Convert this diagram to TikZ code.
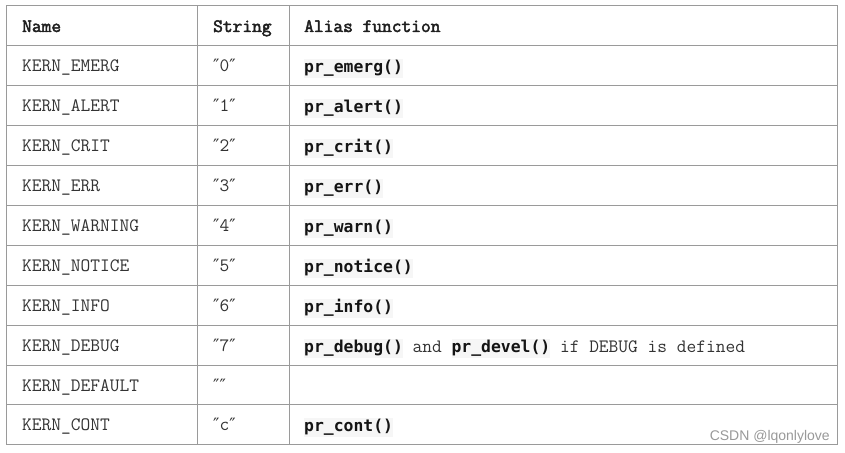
\documentclass[tikz,border=0pt]{standalone}
\usepackage{fontspec}
\setmainfont{Liberation Serif}
\newfontfamily\codefont{DejaVu Sans Mono}
\newfontfamily\qfont{DejaVu Serif}
\newfontfamily\wmfont{Liberation Sans}
\newfontfamily\headfont{Latin Modern Mono}[FakeBold=2.5]
\definecolor{rulec}{HTML}{9A9A9A}
\definecolor{txt}{HTML}{333333}
\definecolor{codebg}{HTML}{F6F6F6}
\newcommand\cbox[1]{{\setlength{\fboxsep}{0pt}\colorbox{codebg}{\codefont\bfseries\fontsize{16.4}{19}\selectfont\color{black!92}\strut #1}}}
\newcommand\qq[1]{{\qfont\fontsize{17}{19}\selectfont ″}#1{\qfont\fontsize{17}{19}\selectfont ″}}
\begin{document}
\begin{tikzpicture}[x=1pt,y=-1pt,
  cell/.style={anchor=base west, inner sep=0pt, text=txt, font=\ttfamily\fontsize{18.9}{21}\selectfont},
  head/.style={anchor=base west, inner sep=0pt, text=black!88, font=\headfont\fontsize{18.9}{21}\selectfont},
  codecell/.style={anchor=base west, inner sep=0pt, text=txt, font=\ttfamily\fontsize{18.9}{21}\selectfont},
  wm/.style={anchor=base east, inner sep=0pt, text=black!40, font=\wmfont\fontsize{14}{16}\selectfont},
  rule/.style={draw=rulec, line width=1pt}]
\useasboundingbox (0,0) rectangle (845,452);
\fill[white] (0,0) rectangle (845,452);
% grid
\foreach \yy in {45.5,85.5,125.5,165.5,205.5,245.5,285.5,325.5,365.5,404.5}
  \draw[rule] (6,\yy) -- (837,\yy);
\draw[rule] (6,6) rectangle (837,444);
\draw[rule] (197,6) -- (197,444);
\draw[rule] (289,6) -- (289,444);
% header
\node[head] (h1) at (22,32) {Name};
\node[head] (h2) at (213,32) {String};
\node[head] (h3) at (304,32) {Alias function};
% rows
\node[cell] (n1) at (22,71.5) {KERN\_EMERG};
\node[cell] (s1) at (213,71.5) {\qq{0}};
\node[codecell] (a1) at (304,72.5) {\cbox{pr\_emerg()}};
\node[cell] (n2) at (22,111.5) {KERN\_ALERT};
\node[cell] (s2) at (213,111.5) {\qq{1}};
\node[codecell] (a2) at (304,112.5) {\cbox{pr\_alert()}};
\node[cell] (n3) at (22,151.5) {KERN\_CRIT};
\node[cell] (s3) at (213,151.5) {\qq{2}};
\node[codecell] (a3) at (304,152.5) {\cbox{pr\_crit()}};
\node[cell] (n4) at (22,191.5) {KERN\_ERR};
\node[cell] (s4) at (213,191.5) {\qq{3}};
\node[codecell] (a4) at (304,192.5) {\cbox{pr\_err()}};
\node[cell] (n5) at (22,231.5) {KERN\_WARNING};
\node[cell] (s5) at (213,231.5) {\qq{4}};
\node[codecell] (a5) at (304,232.5) {\cbox{pr\_warn()}};
\node[cell] (n6) at (22,271.5) {KERN\_NOTICE};
\node[cell] (s6) at (213,271.5) {\qq{5}};
\node[codecell] (a6) at (304,272.5) {\cbox{pr\_notice()}};
\node[cell] (n7) at (22,311.5) {KERN\_INFO};
\node[cell] (s7) at (213,311.5) {\qq{6}};
\node[codecell] (a7) at (304,312.5) {\cbox{pr\_info()}};
\node[cell] (n8) at (22,351.5) {KERN\_DEBUG};
\node[cell] (s8) at (213,351.5) {\qq{7}};
\node[codecell] (a8) at (304,352.5) {\cbox{pr\_debug()} and \cbox{pr\_devel()} if DEBUG is defined};
\node[cell] (n9) at (22,391.5) {KERN\_DEFAULT};
\node[cell] (s9) at (213,391.5) {\qq{}};
\node[cell] (n10) at (22,430.5) {KERN\_CONT};
\node[cell] (s10) at (213,430.5) {\qq{c}};
\node[codecell] (a10) at (304,431.5) {\cbox{pr\_cont()}};
% watermark
\node[wm] (wmk) at (830,440) {CSDN @lqonlylove};
\end{tikzpicture}
\end{document}
